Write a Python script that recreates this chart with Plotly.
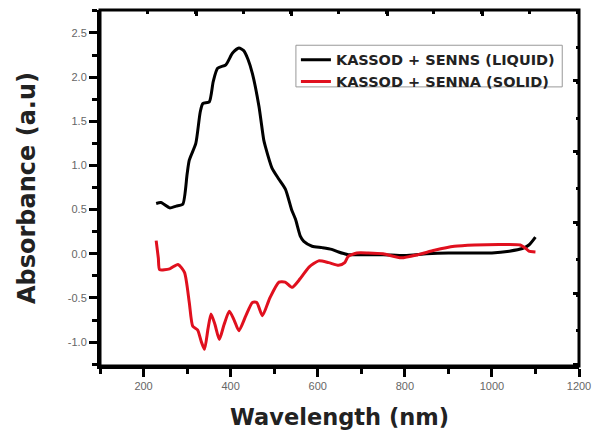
import plotly.graph_objects as go

liquid_wl = [229, 240, 260, 275, 290, 300, 305, 320, 330, 336, 351, 360, 370, 389, 404, 419, 430, 440, 450, 465,
             476, 480, 495, 510, 526, 540, 549, 560, 568, 587, 610, 632, 648, 670, 700, 750, 800, 850, 900, 950,
             1000, 1040, 1070, 1085, 1100]
liquid_abs = [0.57, 0.58, 0.52, 0.54, 0.56, 0.9, 1.06, 1.25, 1.6, 1.70, 1.72, 1.95, 2.10, 2.14, 2.27, 2.33, 2.30, 2.2, 2.04, 1.67,
              1.29, 1.21, 0.97, 0.85, 0.73, 0.50, 0.39, 0.2, 0.14, 0.086, 0.07, 0.05, 0.02, -0.01, -0.01, -0.01, -0.02, 0.0, 0.01, 0.01,
              0.01, 0.03, 0.06, 0.1, 0.19]

solid_wl = [229, 234, 237, 260, 279, 294, 305, 313, 324, 333, 340, 348, 355, 364, 374, 385, 397, 408, 419, 435,
            450, 460, 473, 490, 511, 525, 541, 560, 580, 602, 625, 648, 662, 670, 690, 716, 750, 792, 830, 868,
            914, 960, 1020, 1065, 1078, 1085, 1100]
solid_abs = [0.15, -0.05, -0.18, -0.17, -0.12, -0.21, -0.55, -0.82, -0.86, -1.0, -1.08, -0.85, -0.68, -0.8, -0.97, -0.8, -0.65, -0.75, -0.87, -0.7,
             -0.55, -0.55, -0.70, -0.5, -0.32, -0.32, -0.38, -0.28, -0.15, -0.08, -0.1, -0.13, -0.1, -0.03, 0.01, 0.01, 0.0, -0.045, -0.01, 0.04,
             0.085, 0.1, 0.105, 0.1, 0.06, 0.03, 0.02]

x_ticks = [200, 400, 600, 800, 1000, 1200]
y_ticks = [-1.0, -0.5, 0.0, 0.5, 1.0, 1.5, 2.0, 2.5]

fig = go.Figure()
fig.add_trace(go.Scatter(x=liquid_wl, y=liquid_abs, mode="lines", name="<b>KASSOD + SENNS (LIQUID)</b>",
                         line=dict(color="black", width=3, shape="spline", smoothing=0.6)))
fig.add_trace(go.Scatter(x=solid_wl, y=solid_abs, mode="lines", name="<b>KASSOD + SENNA (SOLID)</b>",
                         line=dict(color="#e0101e", width=3, shape="spline", smoothing=0.6)))

axis_common = dict(showline=True, linecolor="black", linewidth=3, ticks="outside",
                   ticklen=8, tickwidth=3, tickcolor="black", showgrid=False, zeroline=False,
                   tickfont=dict(family="Arial", size=11, color="#666"))

fig.update_xaxes(range=[100, 1200], tickvals=x_ticks, ticktext=[str(v) for v in x_ticks],
                 minor=dict(dtick=100, ticks="outside", ticklen=5, tickwidth=3, tickcolor="black"),
                 title=dict(text="<b>Wavelength (nm)</b>", font=dict(family="DejaVu Sans", size=22.5, color="#222"), standoff=19),
                 **axis_common)
fig.update_yaxes(range=[-1.27, 2.76], tickvals=y_ticks, ticktext=[f"{v:.1f}" for v in y_ticks],
                 minor=dict(dtick=0.25, tick0=0, ticks="outside", ticklen=5, tickwidth=3, tickcolor="black"),
                 title=dict(text="<b>Absorbance (a.u)</b>", font=dict(family="DejaVu Sans", size=24, color="#222"), standoff=26),
                 **axis_common)

# decorative inward ticks on the top and right frame edges (own scales, as in the reference)
fig.update_layout(
    xaxis2=dict(overlaying="x", side="top", range=[0, 482], tick0=1, dtick=96, ticks="inside", ticklen=6,
                tickwidth=2.5, tickcolor="black", showticklabels=False, showgrid=False, zeroline=False,
                showline=False, fixedrange=True,
                minor=dict(dtick=48, ticks="inside", ticklen=3.5, tickwidth=2.5, tickcolor="black")),
    yaxis2=dict(overlaying="y", side="right", range=[0, 358], tick0=2, dtick=71.2, ticks="inside", ticklen=6,
                tickwidth=2.5, tickcolor="black", showticklabels=False, showgrid=False, zeroline=False,
                showline=False, fixedrange=True,
                minor=dict(dtick=35.6, ticks="inside", ticklen=3.5, tickwidth=2.5, tickcolor="black")),
)
fig.add_trace(go.Scatter(x=[None], y=[None], xaxis="x2", yaxis="y2", showlegend=False, hoverinfo="skip"))

fig.add_shape(type="rect", xref="paper", yref="paper", x0=0, y0=0, x1=1, y1=1,
              line=dict(color="black", width=3), fillcolor="rgba(0,0,0,0)", layer="above")
# legend frame
fig.add_shape(type="rect", xref="paper", yref="paper", x0=0.409, y0=0.784, x1=0.965, y1=0.901,
              line=dict(color="#999", width=1), fillcolor="rgba(0,0,0,0)", layer="above")

fig.update_layout(
    width=601, height=437,
    margin=dict(l=100, r=19, t=10, b=69),
    plot_bgcolor="white", paper_bgcolor="white",
    legend=dict(x=0.409, y=0.905, xanchor="left", yanchor="top", borderwidth=0,
                bgcolor="rgba(0,0,0,0)", font=dict(family="DejaVu Sans", size=14.5, color="#222"), tracegroupgap=0,
                itemwidth=30),
)

fig.write_html("out.html", post_script="document.body.style.margin='0';",
               config={"displayModeBar": False})
